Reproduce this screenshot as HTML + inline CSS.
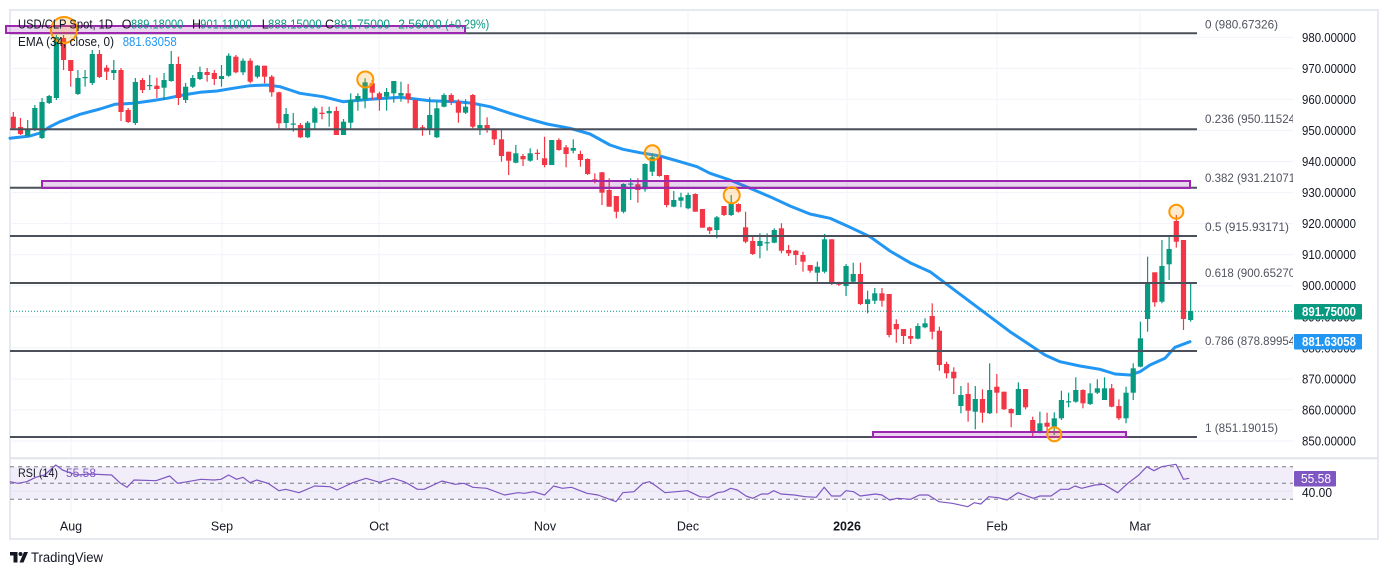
<!DOCTYPE html>
<html><head><meta charset="utf-8">
<style>
html,body{margin:0;padding:0;background:#fff;}
svg{display:block;font-family:"Liberation Sans",sans-serif;}
</style></head>
<body>
<svg id="c" width="1388" height="575" viewBox="0 0 1388 575" xmlns="http://www.w3.org/2000/svg">
<defs>
<clipPath id="pane"><rect x="10" y="10" width="1283" height="448"/></clipPath>
</defs>
<rect x="0" y="0" width="1388" height="575" fill="#fff"/>
<rect x="10" y="10" width="1368" height="529" fill="#fff" stroke="#e6e9ef" stroke-width="2"/>

<!-- horizontal grid -->
<g stroke="#f0f3fa" stroke-width="1">
<line x1="10" x2="1293" y1="37.3" y2="37.3"/>
<line x1="10" x2="1293" y1="68.4" y2="68.4"/>
<line x1="10" x2="1293" y1="99.4" y2="99.4"/>
<line x1="10" x2="1293" y1="130.5" y2="130.5"/>
<line x1="10" x2="1293" y1="161.5" y2="161.5"/>
<line x1="10" x2="1293" y1="192.6" y2="192.6"/>
<line x1="10" x2="1293" y1="223.6" y2="223.6"/>
<line x1="10" x2="1293" y1="254.7" y2="254.7"/>
<line x1="10" x2="1293" y1="285.7" y2="285.7"/>
<line x1="10" x2="1293" y1="316.8" y2="316.8"/>
<line x1="10" x2="1293" y1="347.8" y2="347.8"/>
<line x1="10" x2="1293" y1="378.9" y2="378.9"/>
<line x1="10" x2="1293" y1="409.9" y2="409.9"/>
<line x1="10" x2="1293" y1="441" y2="441"/>
<line x1="10" x2="1293" y1="491.2" y2="491.2"/>
</g>
<!-- vertical grid -->
<g stroke="#f0f3fa" stroke-width="1">
<line x1="71" x2="71" y1="11" y2="512"/>
<line x1="222" x2="222" y1="11" y2="512"/>
<line x1="379" x2="379" y1="11" y2="512"/>
<line x1="545" x2="545" y1="11" y2="512"/>
<line x1="688" x2="688" y1="11" y2="512"/>
<line x1="847" x2="847" y1="11" y2="512"/>
<line x1="997" x2="997" y1="11" y2="512"/>
<line x1="1140" x2="1140" y1="11" y2="512"/>
</g>

<!-- EMA -->
<polyline fill="none" stroke="#2196f3" stroke-width="3" stroke-linejoin="round" stroke-linecap="round"
points="10,138.3 30,136 40,133 50,126.7 60,121.7 80,114.3 100,109 115,104.3 133,103.3 150,101 167,98.3 183,95 200,92.3 217,91 233,88.3 250,85.7 267,85 280,86.7 290,90 300,93.3 323,96.7 343,101.7 370,99.3 400,97.3 430,100.7 457,101.7 473,103.3 490,106.7 510,113.3 530,119.3 547,124 570,128.3 590,134 610,145 623,149.3 640,152.7 660,156 680,161.7 697,166.7 710,173.3 730,180 750,188.3 770,196.7 790,206 810,214 830,218.3 850,227.3 870,236.7 890,251 910,262.7 930,271.7 950,286.7 970,301.7 990,316.7 1010,331.7 1030,345 1045,355 1060,361.7 1080,366 1100,369.3 1115,374 1130,375 1140,371.7 1150,365 1165,358.3 1175,347.3 1190,341.7"/>

<!-- candles -->
<g id="candles"></g>

<!-- fib lines -->
<g stroke="#4c505a" stroke-width="2">
<line x1="10" x2="1197" y1="33.3" y2="33.3"/>
<line x1="10" x2="1197" y1="129.3" y2="129.3"/>
<line x1="10" x2="1197" y1="187.7" y2="187.7"/>
<line x1="10" x2="1197" y1="236" y2="236"/>
<line x1="10" x2="1197" y1="283" y2="283"/>
<line x1="10" x2="1197" y1="351" y2="351"/>
<line x1="10" x2="1197" y1="437" y2="437"/>
</g>

<!-- purple rectangles -->
<g stroke="#9c27b0" stroke-width="2" fill="rgba(156,39,176,0.2)">
<rect x="6" y="26" width="459" height="7"/>
<rect x="42" y="181" width="1148" height="7"/>
<rect x="873" y="432" width="253" height="5"/>
</g>

<!-- circles -->
<g stroke="#ff9800" stroke-width="2" fill="rgba(255,152,0,0.2)">
<circle cx="64" cy="30" r="13"/>
<circle cx="365.3" cy="79.5" r="8"/>
<circle cx="652.3" cy="152.8" r="7.5"/>
<circle cx="731.7" cy="195.3" r="8"/>
<circle cx="1054.3" cy="434.3" r="7"/>
<circle cx="1176.3" cy="211.7" r="7"/>
</g>

<!-- close dotted line -->
<line x1="10" x2="1293" y1="311.2" y2="311.2" stroke="#089981" stroke-width="1" stroke-dasharray="1 2"/>

<!-- legend -->
<g font-size="12.5" fill="#131722">
<text x="18" y="28.5" textLength="95" lengthAdjust="spacingAndGlyphs">USD/CLP Spot, 1D</text>
<text x="121.7" y="28.5">O</text>
<text x="131" y="28.5" fill="#089981" textLength="52.3" lengthAdjust="spacingAndGlyphs">889.18000</text>
<text x="192" y="28.5">H</text>
<text x="200.3" y="28.5" fill="#089981" textLength="51.4" lengthAdjust="spacingAndGlyphs">901.11000</text>
<text x="261.7" y="28.5">L</text>
<text x="268" y="28.5" fill="#089981" textLength="53.7" lengthAdjust="spacingAndGlyphs">888.15000</text>
<text x="325" y="28.5">C</text>
<text x="334" y="28.5" fill="#089981" textLength="56" lengthAdjust="spacingAndGlyphs">891.75000</text>
<text x="398.3" y="28.5" fill="#089981" textLength="43.4" lengthAdjust="spacingAndGlyphs">2.56000</text>
<text x="445" y="28.5" fill="#089981" textLength="44.3" lengthAdjust="spacingAndGlyphs">(+0.29%)</text>
<text x="18" y="46" textLength="96" lengthAdjust="spacingAndGlyphs">EMA (34, close, 0)</text>
<text x="122.7" y="46" fill="#2196f3" textLength="54" lengthAdjust="spacingAndGlyphs">881.63058</text>
</g>

<!-- fib labels -->
<g font-size="12" fill="#50535e" clip-path="url(#pane)">
<text x="1205" y="28.5" textLength="73" lengthAdjust="spacingAndGlyphs">0 (980.67326)</text>
<text x="1205" y="122.8" textLength="94" lengthAdjust="spacingAndGlyphs">0.236 (950.11524)</text>
<text x="1205" y="182.2" textLength="94" lengthAdjust="spacingAndGlyphs">0.382 (931.21071)</text>
<text x="1205" y="231" textLength="84" lengthAdjust="spacingAndGlyphs">0.5 (915.93171)</text>
<text x="1205" y="277" textLength="94" lengthAdjust="spacingAndGlyphs">0.618 (900.65270)</text>
<text x="1205" y="345" textLength="94" lengthAdjust="spacingAndGlyphs">0.786 (878.89954)</text>
<text x="1205" y="431.8" textLength="73" lengthAdjust="spacingAndGlyphs">1 (851.19015)</text>
</g>

<!-- price axis -->
<g font-size="12.5" fill="#131722">
<text x="1302" y="41.8" textLength="54" lengthAdjust="spacingAndGlyphs">980.00000</text>
<text x="1302" y="72.9" textLength="54" lengthAdjust="spacingAndGlyphs">970.00000</text>
<text x="1302" y="103.9" textLength="54" lengthAdjust="spacingAndGlyphs">960.00000</text>
<text x="1302" y="135" textLength="54" lengthAdjust="spacingAndGlyphs">950.00000</text>
<text x="1302" y="166" textLength="54" lengthAdjust="spacingAndGlyphs">940.00000</text>
<text x="1302" y="197.1" textLength="54" lengthAdjust="spacingAndGlyphs">930.00000</text>
<text x="1302" y="228.1" textLength="54" lengthAdjust="spacingAndGlyphs">920.00000</text>
<text x="1302" y="259.2" textLength="54" lengthAdjust="spacingAndGlyphs">910.00000</text>
<text x="1302" y="290.2" textLength="54" lengthAdjust="spacingAndGlyphs">900.00000</text>
<text x="1302" y="321.3" textLength="54" lengthAdjust="spacingAndGlyphs">890.00000</text>
<text x="1302" y="352.3" textLength="54" lengthAdjust="spacingAndGlyphs">880.00000</text>
<text x="1302" y="383.4" textLength="54" lengthAdjust="spacingAndGlyphs">870.00000</text>
<text x="1302" y="414.4" textLength="54" lengthAdjust="spacingAndGlyphs">860.00000</text>
<text x="1302" y="445.5" textLength="54" lengthAdjust="spacingAndGlyphs">850.00000</text>
</g>
<rect x="1294" y="304" width="68" height="15.5" rx="1" fill="#089981"/>
<text x="1302" y="316" font-size="12.5" font-weight="bold" fill="#fff" textLength="54" lengthAdjust="spacingAndGlyphs">891.75000</text>
<rect x="1294" y="334" width="68" height="15.5" rx="1" fill="#2196f3"/>
<text x="1302" y="346.2" font-size="12.5" font-weight="bold" fill="#fff" textLength="54" lengthAdjust="spacingAndGlyphs">881.63058</text>

<!-- RSI pane -->
<line x1="10" x2="1378" y1="458.3" y2="458.3" stroke="#e0e3eb" stroke-width="2"/>
<rect x="10" y="466.7" width="1283" height="32.6" fill="rgba(126,87,194,0.1)"/>
<g stroke="#787b86" stroke-width="1" stroke-dasharray="4 4">
<line x1="10" x2="1293" y1="466.7" y2="466.7"/>
<line x1="10" x2="1293" y1="483.3" y2="483.3"/>
<line x1="10" x2="1293" y1="499.3" y2="499.3"/>
</g>
<polyline fill="none" stroke="#7e57c2" stroke-width="1.2" stroke-linejoin="round"
points="9.8,481.7 17.9,483.3 26.8,481.7 35.7,477.3 44.6,475 55.8,465 62.5,470 71.4,473.3 78,475 89,474 111.6,475 120.5,483.3 127,487.3 134,480 156,480.7 169.6,476 177.7,483.3 187.5,481.7 201,479.3 214,480 221,479.3 228.6,475 236.6,479.3 243,477.3 250,482.7 256.7,480 267.9,483.3 279,490.7 285.7,489.3 299,492.7 314.7,486 330,486.7 337,490 352.7,482.7 366,478.3 379.5,482.3 392.9,478.3 404,481.7 408.5,484 417.4,489.3 424,489.3 442,481 455,484.3 464,483.3 473,487.3 486.6,488.3 504.5,495 517.9,492.7 524.6,493.3 533.5,491.7 544.6,495 553.6,486 562.5,488.3 571.4,487.3 587,493.3 598,495 616,501.7 622.8,492.7 634,491.7 642.9,483.3 649.6,481.7 656,486 665,492.7 687.5,490.7 700,496.7 708.8,497.3 717.6,492.7 724,491.7 730.7,488.3 737.3,490 746,496 752.7,498.3 761.4,494 768,494 773.7,490.7 781,494 794.3,495 805.3,496.7 816.3,497.3 824.2,487.3 831.6,496 840.4,496 846,490.7 853.6,491.7 860.2,496 875.5,494 882,495 889.6,500 897.5,498.3 910.6,499.3 919.4,495 928.2,495 939,501.7 952.3,503.3 967.7,506.7 974.2,502.7 980.8,504 988.7,496.7 998.4,497.7 1007,500 1018,492.7 1033.5,498.3 1040,496 1051,496 1060.7,489.3 1068.6,489.3 1075,486 1081.7,488.3 1095,485 1103.7,484.3 1117.7,492.7 1127.8,483.3 1138.8,475 1146.7,466.7 1154,470.7 1161.6,466.7 1176,464.3 1183.5,479.3 1189.2,478.3"/>
<text x="18" y="477" font-size="12" fill="#131722" textLength="40" lengthAdjust="spacingAndGlyphs">RSI (14)</text>
<text x="66" y="477" font-size="12" fill="#7e57c2" textLength="30" lengthAdjust="spacingAndGlyphs">55.58</text>
<text x="1302" y="497" font-size="12.5" fill="#131722" textLength="30" lengthAdjust="spacingAndGlyphs">40.00</text>
<rect x="1294" y="471" width="42" height="15.5" rx="1" fill="#7e57c2"/>
<text x="1301" y="483" font-size="12.5" fill="#fff" textLength="30" lengthAdjust="spacingAndGlyphs">55.58</text>

<!-- time axis -->
<g font-size="12.5" fill="#131722" text-anchor="middle">
<text x="71" y="530.5">Aug</text>
<text x="222" y="530.5">Sep</text>
<text x="379" y="530.5">Oct</text>
<text x="545" y="530.5">Nov</text>
<text x="688" y="530.5">Dec</text>
<text x="847" y="530.5" font-weight="bold">2026</text>
<text x="997" y="530.5">Feb</text>
<text x="1140" y="530.5">Mar</text>
</g>

<!-- footer -->
<g fill="#131722">
<rect x="10" y="552" width="7.5" height="3.5"/>
<rect x="13.5" y="552" width="4" height="10.5"/>
<circle cx="20.5" cy="554" r="2"/>
<polygon points="19.5,562.5 23.5,562.5 28,552 24,552"/>
<text x="31" y="562" font-size="13.5" textLength="72" lengthAdjust="spacingAndGlyphs">TradingView</text>
</g>
</svg>
<script>
const D=[[0,116.7,128.3,112,130],[0,127,134,118,135],[1,129,136,120,137],[1,108,130,105,131],[1,102,138,98,139],[1,96,103,95,104],[1,37,98,35,100],[0,38,60,35,70],[0,60,71,60,86.7],[1,78,94,70,95],
[1,77,78,70,86.7],[1,54,83,50,85],[0,54,77,50,78],[0,67.7,71.7,65,80],[1,70,73,60,80],[0,70,112,68,121],[0,110,122,108,123],[1,82,123,78,125],[0,80,90,78,93],[1,85,86,75,90],
[0,85.7,89,77.7,98],[1,80,87.7,73,100],[1,64,81,51,81.7],[0,64,98,56.7,105],[1,86.7,100,83,103],[1,78,86.7,75,88],[1,72,79,66.7,80],[0,72,75,68,81.7],[0,73,79,70,85],[1,76,79,65,86.7],
[1,55.7,75.7,53.3,76.7],[0,56.7,72.3,55,73.3],[1,60.7,72.3,58.3,75],[0,60.7,81.7,58.3,83.3],[1,65.7,76.7,65,78.3],[0,65.7,76.7,65.7,83.3],[0,76.7,92.3,75,96.7],[0,92.3,123.3,91.7,130],[1,114,123,108,128],[1,123.5,124.5,113,131.7],
[0,125,137.3,123,138],[1,122.7,137.3,121,138],[1,108.3,122.7,106.7,130],[0,112.7,114,106.7,119.3],[1,111,113.3,106.7,126.7],[0,111,135,106.7,135],[1,121.7,135,119,135],[1,100,122.7,93.3,128.3],[1,96,100.7,93.3,110.7],[1,82.3,99.3,78.3,108.3],
[0,83.3,92.7,80,100],[0,93.3,99.3,91.7,110.7],[1,92,96.7,88,110.7],[1,81,93.3,81,102.7],[1,93,95.7,81.7,101.7],[0,93.3,99.3,84,103.3],[0,100,128.3,99.3,128.3],[0,127.2,128.2,125,135.7],[1,115,129.3,97.3,135],[1,108.3,137.3,101.7,138],
[1,95,106.7,93.3,107.3],[0,95,101.7,93.3,105],[0,101.7,112.7,99.3,122.7],[1,106.7,112.7,99.3,114],[0,95,126.7,94,128.3],[1,125,128.3,106,135],[0,125,130,117.3,132.7],[0,129.3,139.3,128.3,145],[0,139.3,156,130,161.7],[0,151.7,160.7,151.7,175],
[1,153.3,162.7,145,163.3],[0,156,159.3,154,166],[1,153.3,160.7,148.3,161.7],[0,152.8,153.8,149.3,160],[0,158.3,165,136.7,167.3],[1,140,165,140,165],[0,140,150,138.3,150.7],[0,147.3,154,145,167.3],[1,148,150.7,139.3,153.3],[0,154,160,150.7,166.7],
[0,159,174,158.3,175],[0,179.3,180.7,173.3,183.3],[0,172.3,192.7,172,205],[0,190,206.7,178.3,206.7],[0,196,211.7,196,218.3],[1,184,211.7,183.3,213.3],[1,183.5,184.5,178.3,200],[0,184.3,190,178.3,202.7],[1,164,189.3,163.3,191.7],[1,157.3,171.7,153.3,176],
[0,157.3,176,154,176.7],[0,175,205,175,207.3],[1,200,206.7,191,207.3],[1,197.3,200.7,192.7,207.3],[1,195,208.3,192.7,209.3],[0,194,211.7,193.3,211.7],[0,209,227.7,209,227.7],[0,227.3,230.7,226.7,234],[1,217.3,230,216,238.3],[0,206,215,206,216],
[1,203.3,215,195,216],[0,204,211.7,203.3,212.7],[0,227.3,241.7,211.7,243.3],[0,241,254,236.7,255],[1,241,246,233.3,258.3],[1,242.2,243.2,233.3,250.7],[1,230,242.7,228.3,243.3],[0,228.3,250.7,223.3,253.3],[0,250,253.3,245,256],[0,250.7,255,250,265],
[0,255,261.7,251.7,271.7],[0,265,270.7,265,272.7],[1,266.7,272.7,261.7,281.7],[1,239.3,271.7,234,273.3],[0,239.3,284,239.3,285],[0,283.5,284.5,281.7,286],[1,266,286,264,296],[1,274,281.7,262.7,283.3],[0,274,304,262.7,305],[1,299.3,304,290.7,313.3],
[1,293.3,300.7,288,304],[0,293.3,300.7,288,306.7],[0,294,335,294,337.3],[0,324,329.3,319.3,342.7],[0,329,336,329,344],[0,336,338.7,328.3,344],[1,326,338.7,323.3,339.3],[1,323.3,327.3,318.3,328.3],[0,316,331.7,303.3,339.3],[0,330.7,365,326.7,370.7],
[0,364,373.3,361.7,378.3],[0,371.7,378.3,367.3,394],[1,395,406,386,413.3],[0,394,410.7,382.7,421.7],[1,399,411.7,386,429.3],[0,399,412.7,389.3,422.7],[1,390,413.3,363.3,414],[0,386.7,392.7,374,413.3],[0,391.7,409.3,391.7,410],[0,409,413.3,408.3,427.3],
[1,389,415,382.3,415],[0,389,407.3,389,409.3],[0,420,432.7,416.7,436.7],[1,423.3,431.7,411.7,433.3],[0,422.7,426.7,412.7,436.7],[1,418.3,426.7,412.3,435],[1,400,418.3,390.7,420],[1,401.2,402.2,392.7,407.3],[1,390,401.7,377.3,402.7],[0,390,403.3,389.3,408.3],
[1,393.3,404,383.3,405],[1,388.3,392.7,379.3,394],[1,388.3,400,377.3,400],[0,388.3,406.7,384,407.3],[0,406,418.3,399.3,420],[1,392.7,418.3,386.7,423.3],[1,368.3,392.7,363.3,400],[1,338.3,366.7,321.7,367.3],[1,283.3,319,256.7,331.7],[0,272.3,302.3,272.3,306.7],
[1,266,301.7,240,303.3],[1,249,264.3,235,280],[0,221,241.7,215,247.7],[0,240,319,240,330],[1,311,320,282.3,321.7]];
(function(){
  var s='';
  for(var i=0;i<D.length;i++){
    var d=D[i];var x=13.3+i*7.179;var col=d[0]?'#089981':'#f23645';
    s+='<line x1="'+x.toFixed(2)+'" x2="'+x.toFixed(2)+'" y1="'+d[3]+'" y2="'+d[4]+'" stroke="'+col+'" stroke-width="1.2"/>';
    var h=Math.max(1.2,d[2]-d[1]);
    s+='<rect x="'+(x-2.6).toFixed(2)+'" y="'+d[1]+'" width="5.2" height="'+h.toFixed(2)+'" fill="'+col+'"/>';
  }
  document.getElementById('candles').innerHTML=s;
})();
</script>
</body></html>
